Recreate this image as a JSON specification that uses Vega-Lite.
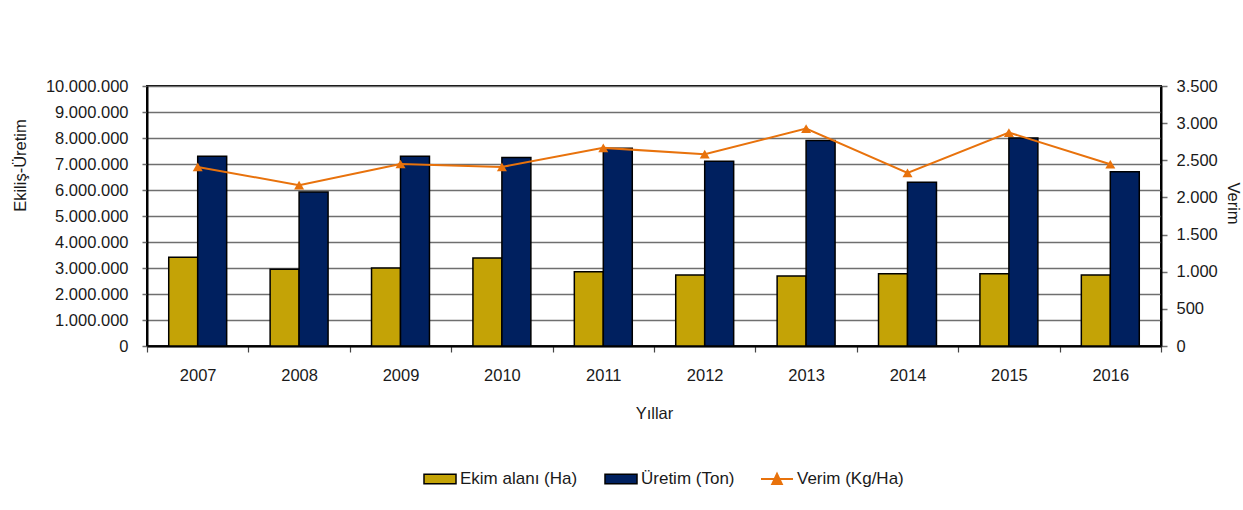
{
  "$schema": "https://vega.github.io/schema/vega-lite/v6.json",
  "width": 1014,
  "height": 260,
  "autosize": {"type": "none"},
  "padding": {"left": 147, "top": 86, "right": 82, "bottom": 164},
  "background": "white",
  "config": {
    "locale": {"number": {"decimal": ",", "thousands": ".", "grouping": [3], "currency": ["", " TL"]}},
    "font": "Liberation Sans",
    "view": {"stroke": "#000000", "strokeWidth": 2},
    "axis": {
      "labelFont": "Liberation Sans",
      "titleFont": "Liberation Sans",
      "labelFontSize": 16.5,
      "titleFontSize": 16.5,
      "titleFontWeight": "normal",
      "labelColor": "#1a1a1a",
      "titleColor": "#1a1a1a"
    },
    "legend": {"labelFont": "Liberation Sans", "labelFontSize": 17, "labelColor": "#1a1a1a"}
  },
  "data": {
    "values": [
      {"yil": "2007", "ekim": 3410000, "uretim": 7300000, "verim": 2411},
      {"yil": "2008", "ekim": 2950000, "uretim": 5920000, "verim": 2165},
      {"yil": "2009", "ekim": 3000000, "uretim": 7300000, "verim": 2450},
      {"yil": "2010", "ekim": 3380000, "uretim": 7250000, "verim": 2411},
      {"yil": "2011", "ekim": 2860000, "uretim": 7610000, "verim": 2667},
      {"yil": "2012", "ekim": 2730000, "uretim": 7110000, "verim": 2582},
      {"yil": "2013", "ekim": 2690000, "uretim": 7900000, "verim": 2927},
      {"yil": "2014", "ekim": 2780000, "uretim": 6300000, "verim": 2330},
      {"yil": "2015", "ekim": 2780000, "uretim": 8000000, "verim": 2873},
      {"yil": "2016", "ekim": 2730000, "uretim": 6700000, "verim": 2447}
    ]
  },
  "encoding": {
    "x": {
      "field": "yil",
      "type": "nominal",
      "scale": {"paddingInner": 0, "paddingOuter": 0},
      "axis": {
        "title": "Yıllar",
        "labelAngle": 0,
        "tickBand": "extent",
        "tickSize": 6,
        "tickColor": "#444",
        "tickWidth": 1.2,
        "domainColor": "#000",
        "domainWidth": 2,
        "labelPadding": 15,
        "titlePadding": 22
      }
    }
  },
  "layer": [
    {
      "transform": [
        {"fold": ["ekim", "uretim"], "as": ["key", "deger"]},
        {"lookup": "key", "from": {"data": {"values": [
          {"key": "ekim", "seri": "Ekim alanı (Ha)"},
          {"key": "uretim", "seri": "Üretim (Ton)"}
        ]}, "key": "key", "fields": ["seri"]}}
      ],
      "mark": {"type": "bar", "stroke": "#000", "strokeWidth": 1.5},
      "encoding": {
        "xOffset": {"field": "seri", "type": "nominal", "scale": {"paddingInner": 0, "paddingOuter": 0.75}},
        "y": {
          "field": "deger",
          "type": "quantitative",
          "scale": {"domain": [0, 10000000], "nice": false},
          "axis": {
            "title": "Ekiliş-Üretim",
            "values": [0, 1000000, 2000000, 3000000, 4000000, 5000000, 6000000, 7000000, 8000000, 9000000, 10000000],
            "format": ",d",
            "grid": true,
            "gridColor": "#6f6f6f",
            "gridWidth": 1.5,
            "tickSize": 5,
            "tickColor": "#6f6f6f",
            "tickWidth": 1.5,
            "domainColor": "#000",
            "domainWidth": 2,
            "labelPadding": 14,
            "titleAngle": 270,
            "titleAlign": "center",
            "titleBaseline": "middle",
            "titleX": -127,
            "titleY": 79
          }
        },
        "fill": {
          "field": "seri",
          "type": "nominal",
          "scale": {"domain": ["Ekim alanı (Ha)", "Üretim (Ton)"], "range": ["#C4A306", "#00205F"]},
          "legend": {
            "title": null,
            "orient": "none",
            "direction": "horizontal",
            "legendX": 276,
            "legendY": 376,
            "symbolType": "M-1,-0.3H1V0.3H-1Z",
            "symbolSize": 1024,
            "symbolStrokeColor": "#000",
            "symbolStrokeWidth": 1.5,
            "labelOffset": 3,
            "columnPadding": 24
          }
        }
      }
    },
    {
      "mark": {"type": "line", "strokeWidth": 2},
      "encoding": {
        "y": {
          "field": "verim",
          "type": "quantitative",
          "scale": {"domain": [0, 3500], "nice": false},
          "axis": {
            "title": "Verim",
            "orient": "right",
            "values": [0, 500, 1000, 1500, 2000, 2500, 3000, 3500],
            "format": ",d",
            "grid": false,
            "tickSize": 6,
            "tickColor": "#6f6f6f",
            "tickWidth": 1.5,
            "domainColor": "#000",
            "domainWidth": 2,
            "labelPadding": 9,
            "titleAngle": 90,
            "titleAlign": "center",
            "titleBaseline": "middle",
            "titleX": 71,
            "titleY": 117
          }
        },
        "stroke": {
          "datum": "Verim (Kg/Ha)",
          "type": "nominal",
          "scale": {"domain": ["Verim (Kg/Ha)"], "range": ["#E8720C"]},
          "legend": {
            "title": null,
            "orient": "none",
            "legendX": 613,
            "legendY": 376,
            "symbolType": "M-1,0H1M-0.3,0.32L0,-0.32L0.3,0.32Z",
            "symbolSize": 1024,
            "symbolFillColor": "#E8720C",
            "symbolStrokeWidth": 2,
            "labelOffset": 3
          }
        }
      }
    },
    {
      "mark": {"type": "point", "shape": "triangle-up", "filled": true, "size": 100, "color": "#E8720C", "opacity": 1},
      "encoding": {
        "y": {"field": "verim", "type": "quantitative", "scale": {"domain": [0, 3500], "nice": false}, "axis": null}
      }
    }
  ],
  "resolve": {"scale": {"y": "independent"}, "axis": {"y": "independent"}}
}
